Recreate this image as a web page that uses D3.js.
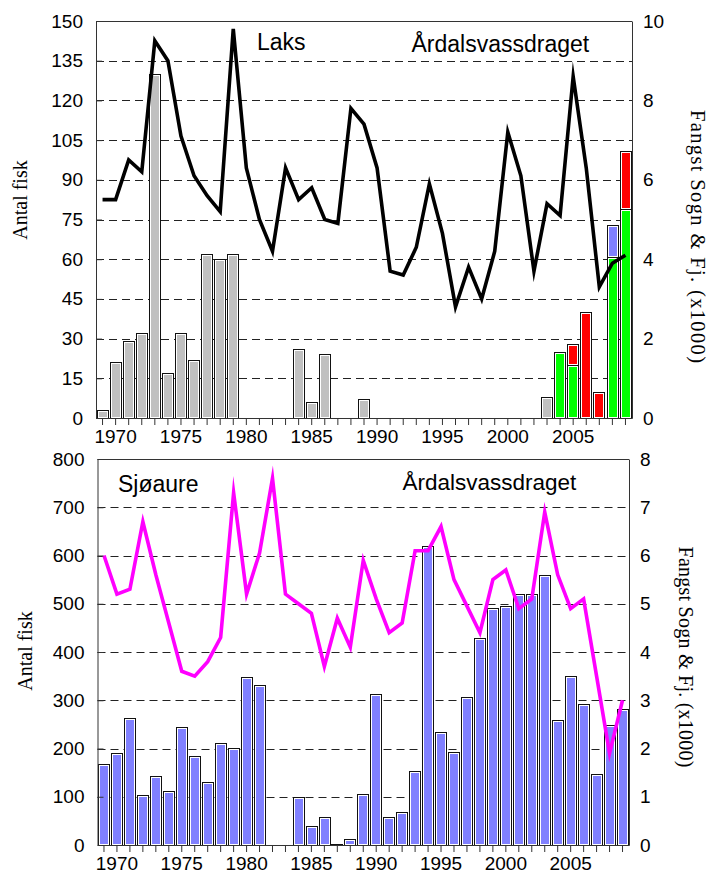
<!DOCTYPE html>
<html>
<head>
<meta charset="utf-8">
<script src="https://cdn.jsdelivr.net/npm/d3@7"></script>
<style>
  html, body { margin: 0; padding: 0; background: #fff; }
  svg { display: block; }
</style>
</head>
<body>
<svg id="chart" width="709" height="877"></svg>
<script>
// ---------- DATA ----------
const years = [1969,1970,1971,1972,1973,1974,1975,1976,1977,1978,
               1979,1980,1981,1982,1983,1984,1985,1986,1987,1988,
               1989,1990,1991,1992,1993,1994,1995,1996,1997,1998,
               1999,2000,2001,2002,2003,2004,2005,2006,2007,2008,
               2009];

// Laks (top) – stacked bars, left axis (Antal fisk)
const laksGrey  = [3,21,29,32,130,17,32,22,62,60,
                   62,0,0,0,0,26,6,24,0,0,
                   7,0,0,0,0,0,0,0,0,0,
                   0,0,0,0,8,0,0,0,0,0,
                   0];
const laksGreen = [0,0,0,0,0,0,0,0,0,0,
                   0,0,0,0,0,0,0,0,0,0,
                   0,0,0,0,0,0,0,0,0,0,
                   0,0,0,0,0,25,20,0,0,61,
                   79];
const laksRed   = [0,0,0,0,0,0,0,0,0,0,
                   0,0,0,0,0,0,0,0,0,0,
                   0,0,0,0,0,0,0,0,0,0,
                   0,0,0,0,0,0,8,40,10,0,
                   22];
const laksBlue  = [0,0,0,0,0,0,0,0,0,0,
                   0,0,0,0,0,0,0,0,0,0,
                   0,0,0,0,0,0,0,0,0,0,
                   0,0,0,0,0,0,0,0,0,12,
                   0];
// Laks – Fangst Sogn & Fj. (x1000), right axis
const laksCatch = [5.5,5.5,6.5,6.2,9.5,9.0,7.1,6.1,5.6,5.2,
                   9.8,6.3,5.0,4.2,6.3,5.5,5.8,5.0,4.9,7.8,
                   7.4,6.3,3.7,3.6,4.3,5.9,4.65,2.8,3.8,3.0,
                   4.2,7.2,6.1,3.7,5.4,5.1,8.6,6.3,3.3,3.9,
                   4.1];

// Sjøaure (bottom)
const sjoBars  = [168,191,263,104,143,112,244,184,130,212,
                  202,349,332,0,0,100,39,58,2,12,
                  106,312,59,69,153,620,234,193,307,430,
                  492,495,520,520,560,259,350,292,147,249,
                  281];
const sjoCatch = [6.0,5.2,5.3,6.7,5.6,4.6,3.6,3.5,3.8,4.3,
                  7.3,5.2,6.05,7.6,5.2,5.0,4.8,3.7,4.7,4.1,
                  5.9,5.1,4.4,4.6,6.1,6.1,6.6,5.5,4.95,4.4,
                  5.5,5.7,4.9,5.1,6.9,5.6,4.9,5.1,3.5,1.9,
                  3.0];

const laksLeftTicks  = [0,15,30,45,60,75,90,105,120,135,150];
const laksRightTicks = [0,2,4,6,8,10];
const sjoLeftTicks   = [0,100,200,300,400,500,600,700,800];
const sjoRightTicks  = [0,1,2,3,4,5,6,7,8];
const xLabelYears    = [1970,1975,1980,1985,1990,1995,2000,2005];

const leftTitle  = "Antal fisk";
const rightTitle = "Fangst Sogn & Fj. (x1000)";

// ---------- DRAW ----------
const svg = d3.select("#chart");
const SANS = "'Liberation Sans', Arial, sans-serif";
const SERIF = "'Liberation Serif', 'Times New Roman', serif";

function drawPanel(cfg) {
  const g = svg.append("g");
  const x = d3.scaleBand().domain(years).range([cfg.left, cfg.right])
              .paddingInner(0.1).paddingOuter(0.05);
  const yL = d3.scaleLinear().domain([0, cfg.leftMax]).range([cfg.bottom, cfg.top]);
  const yR = d3.scaleLinear().domain([0, cfg.rightMax]).range([cfg.bottom, cfg.top]);

  // gridlines
  g.append("g").selectAll("line")
    .data(cfg.leftTicks.filter(v => v > 0 && v < cfg.leftMax))
    .join("line")
    .attr("x1", cfg.left).attr("x2", cfg.right)
    .attr("y1", d => Math.round(yL(d)) + 0.5).attr("y2", d => Math.round(yL(d)) + 0.5)
    .attr("stroke", "#222").attr("stroke-width", 1.2)
    .attr("stroke-dasharray", "8,5");

  // stacked bars
  const rows = years.map((yr, i) => {
    const o = { year: yr };
    cfg.series.forEach(s => o[s.key] = s.values[i]);
    return o;
  });
  const stack = d3.stack().keys(cfg.series.map(s => s.key))(rows);
  stack.forEach((layer, li) => {
    const col = cfg.series[li].color;
    const segs = layer.filter(d => d[1] - d[0] > 0);
    const bg = g.append("g");
    bg.selectAll("rect.o").data(segs).join("rect").attr("class", "o")
      .attr("x", d => Math.round(x(d.data.year)) + 0.5)
      .attr("y", d => Math.round(yL(d[1])) + 0.5)
      .attr("width", Math.round(x.bandwidth()) - 1)
      .attr("height", d => Math.max(0, Math.round(yL(d[0])) - Math.round(yL(d[1]))))
      .attr("fill", col).attr("stroke", "#111").attr("stroke-width", 1)
      .attr("shape-rendering", "crispEdges");
    bg.selectAll("rect.i").data(segs.filter(d => yL(d[0]) - yL(d[1]) > 3)).join("rect").attr("class", "i")
      .attr("x", d => Math.round(x(d.data.year)) + 1.5)
      .attr("y", d => Math.round(yL(d[1])) + 1.5)
      .attr("width", Math.round(x.bandwidth()) - 3)
      .attr("height", d => Math.max(0, Math.round(yL(d[0])) - Math.round(yL(d[1])) - 2))
      .attr("fill", "none").attr("stroke", "#fff").attr("stroke-width", 1)
      .attr("shape-rendering", "crispEdges");
  });

  // catch line
  const line = d3.line()
    .x((d, i) => x(years[i]) + x.bandwidth() / 2)
    .y(d => yR(d));
  g.append("path").datum(cfg.lineValues)
    .attr("d", line).attr("fill", "none")
    .attr("stroke", cfg.lineColor).attr("stroke-width", 3.6)
    .attr("stroke-linejoin", "miter").attr("stroke-miterlimit", 10);

  // top border
  g.append("line").attr("x1", cfg.left).attr("x2", cfg.right)
    .attr("y1", cfg.top + 0.5).attr("y2", cfg.top + 0.5)
    .attr("stroke", "#333").attr("stroke-width", 1);

  // axes
  const ax = g.append("g").attr("transform", `translate(0,${cfg.bottom})`)
    .call(d3.axisBottom(x).tickSizeInner(7).tickSizeOuter(0).tickPadding(5)
      .tickFormat(d => xLabelYears.includes(d) ? String(d) : ""));
  const al = g.append("g").attr("transform", `translate(${cfg.left},0)`)
    .call(d3.axisLeft(yL).tickValues(cfg.leftTicks).tickSizeInner(-6).tickSizeOuter(0).tickPadding(13));
  const ar = g.append("g").attr("transform", `translate(${cfg.right},0)`)
    .call(d3.axisRight(yR).tickValues(cfg.rightTicks).tickSizeInner(0).tickSizeOuter(0).tickPadding(11));
  [ax, al, ar].forEach(a => {
    a.selectAll("text").attr("font-family", SANS).attr("font-size", 19).attr("fill", "#000");
    a.selectAll("line").attr("stroke", "#333");
    a.select(".domain").attr("stroke", "#333");
    a.attr("font-family", SANS);
  });

  // titles inside
  g.append("text").attr("x", cfg.t1x).attr("y", cfg.t1y).text(cfg.title1)
    .attr("font-family", SANS).attr("font-size", cfg.t1size).attr("fill", "#000");
  g.append("text").attr("x", cfg.t2x).attr("y", cfg.t2y).text("Årdalsvassdraget")
    .attr("font-family", SANS).attr("font-size", cfg.t2size).attr("fill", "#000");

  // axis titles
  g.append("text").attr("transform", `translate(${cfg.lTitleX},${cfg.lTitleY}) rotate(-90)`)
    .attr("text-anchor", "middle").attr("font-family", SERIF).attr("font-size", 20)
    .text(leftTitle);
  g.append("text").attr("transform", `translate(${cfg.rTitleX},${cfg.rTitleY}) rotate(90)`)
    .attr("text-anchor", "middle").attr("font-family", SERIF).attr("font-size", cfg.rTitleSize)
    .attr("textLength", cfg.rTitleLen).attr("lengthAdjust", "spacing")
    .text(rightTitle);
}

drawPanel({
  left: 96, right: 632, top: 21, bottom: 418,
  leftMax: 150, rightMax: 10,
  leftTicks: laksLeftTicks, rightTicks: laksRightTicks,
  series: [
    { key: "grey",  values: laksGrey,  color: "#c0c0c0" },
    { key: "green", values: laksGreen, color: "#00ff00" },
    { key: "red",   values: laksRed,   color: "#ff0000" },
    { key: "blue",  values: laksBlue,  color: "#8080ff" }
  ],
  lineValues: laksCatch, lineColor: "#000",
  title1: "Laks", t1x: 257, t1y: 50, t1size: 23,
  t2x: 411.5, t2y: 51.5, t2size: 23,
  lTitleX: 26.5, lTitleY: 200,
  rTitleX: 690.5, rTitleY: 236.5, rTitleSize: 20.5, rTitleLen: 253
});

drawPanel({
  left: 97.5, right: 629, top: 459, bottom: 845,
  leftMax: 800, rightMax: 8,
  leftTicks: sjoLeftTicks, rightTicks: sjoRightTicks,
  series: [
    { key: "sjo", values: sjoBars, color: "#8080ff" }
  ],
  lineValues: sjoCatch, lineColor: "#ff00ff",
  title1: "Sjøaure", t1x: 118, t1y: 491.5, t1size: 23,
  t2x: 402.5, t2y: 489.5, t2size: 22.5,
  lTitleX: 31.5, lTitleY: 651,
  rTitleX: 679, rTitleY: 657, rTitleSize: 20, rTitleLen: 221
});
</script>
</body>
</html>
